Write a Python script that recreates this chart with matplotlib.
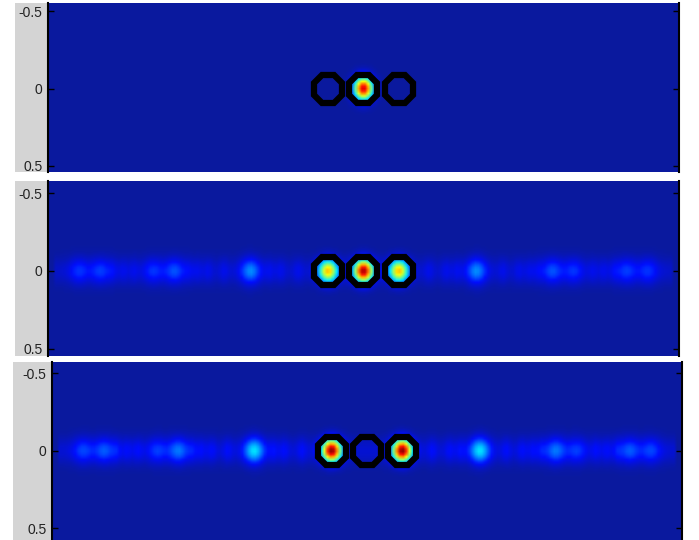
import numpy as np
import matplotlib
matplotlib.use('Agg')
import matplotlib.pyplot as plt
from matplotlib.colors import LinearSegmentedColormap
from matplotlib.patches import Rectangle

# spot positions (units of spot spacing), y = 0 for all
main_pos = [-1.0, 0.0, 1.0]
main_amp = [[0.0, 0.92, 0.0],     # top
            [0.64, 0.92, 0.64],   # middle
            [0.94, 0.0, 0.94]]    # bottom

# weaker diffraction orders along the line
side_pos = [-8.05, -7.45, -5.95, -5.35, -3.2, 3.2, 5.35, 5.95, 7.45, 8.05]
side_amp = [[0, 0, 0, 0, 0, 0, 0, 0, 0, 0],
            [0.10, 0.11, 0.10, 0.13, 0.19, 0.19, 0.13, 0.10, 0.11, 0.10],
            [0.11, 0.13, 0.10, 0.16, 0.27, 0.27, 0.16, 0.10, 0.13, 0.11]]
bump_pos = [-7.1, -6.8, -6.5, -4.95, -4.7, -4.4, -3.95, -2.65, -2.35, -1.85,
            1.85, 2.35, 2.65, 3.95, 4.4, 4.7, 4.95, 6.5, 6.8, 7.1]
bump_amp = [0.0, 0.04, 0.05]
stripe_level = [0.0, 0.05, 0.06]

yticks = [-0.5, 0, 0.5]
circle_x = main_pos

# figure layout in pixels (left, top, right, bottom) and y limits
W, H = 699, 540
boxes = [(48, 3, 679, 172), (48, 181, 679, 356), (52, 362, 682, 544)]
ylims = [(-0.552, 0.539), (-0.577, 0.545), (-0.571, 0.603)]
grey_left = [15, 15, 13]

cmap = LinearSegmentedColormap.from_list('jetish', [
    (0.00, (0.04, 0.10, 0.62)),
    (0.11, (0.00, 0.05, 1.00)),
    (0.34, (0.00, 0.95, 1.00)),
    (0.62, (1.00, 1.00, 0.00)),
    (0.88, (1.00, 0.00, 0.00)),
    (1.00, (0.50, 0.00, 0.00))])

xmax = 8.89
xs = np.linspace(-xmax, xmax, 200)
sx, sy = 0.19, 0.052

fig = plt.figure(figsize=(W / 100, H / 100), dpi=100)
fig.patch.set_facecolor('white')

for k in range(3):
    l, t, r, b = boxes[k]
    y0, y1 = ylims[k]
    ys = np.linspace(y0, y1, 70)
    X, Y = np.meshgrid(xs, ys)
    gy = np.exp(-Y**2 / (2 * sy**2))
    gs = np.exp(-Y**2 / (2 * 0.06**2))
    Z = stripe_level[k] * gs * (np.abs(X) < 8.75)
    for p, a in zip(main_pos, main_amp[k]):
        Z += a * np.exp(-(X - p)**2 / (2 * sx**2)) * gy
    for p, a in zip(side_pos, side_amp[k]):
        Z += a * np.exp(-(X - p)**2 / (2 * 0.2**2)) * gs
    for p in bump_pos:
        Z += bump_amp[k] * np.exp(-(X - p)**2 / (2 * 0.1**2)) * gs

    fig.patches.append(Rectangle((grey_left[k] / W, 1 - b / H), (l - grey_left[k]) / W,
                                 (b - t) / H, transform=fig.transFigure,
                                 facecolor='#d4d4d4', edgecolor='none', zorder=-5))
    ax = fig.add_axes([l / W, 1 - b / H, (r - l) / W, (b - t) / H])
    ax.imshow(Z, extent=[-xmax, xmax, y1, y0], cmap=cmap, vmin=0, vmax=1,
              aspect='auto', interpolation='bilinear')
    ax.plot(circle_x, [0, 0, 0], linestyle='none', marker='8', ms=22,
            mfc='none', mec='black', mew=4.5)
    ax.set_xlim(-xmax, xmax)
    ax.set_ylim(y1, y0)
    ax.set_xticks([])
    ax.set_yticks(yticks)
    ax.set_yticklabels(['-0.5', '0', '0.5'], fontsize=10, family='Liberation Sans',
                       color='#222222')
    ax.tick_params(axis='y', direction='in', left=True, right=True, length=4,
                   width=1, pad=4)
    for s in ['top', 'bottom']:
        ax.spines[s].set_visible(False)
    for s in ['left', 'right']:
        ax.spines[s].set_linewidth(1.5)

fig.savefig('out.png', dpi=100)
